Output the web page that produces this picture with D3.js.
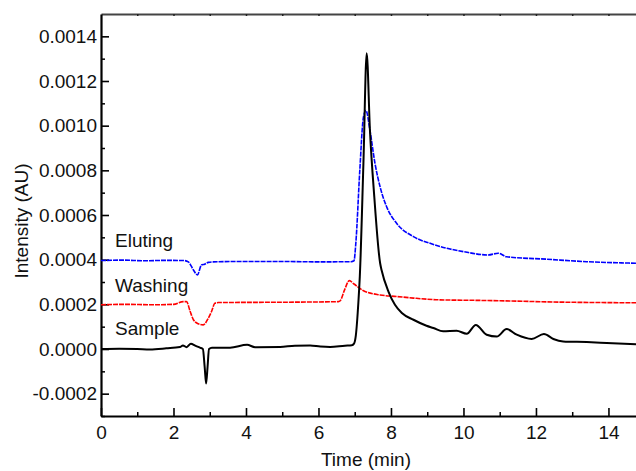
<!DOCTYPE html>
<html>
<head>
<meta charset="utf-8">
<script src="https://cdn.jsdelivr.net/npm/d3@7"></script>
<style>
  body { margin: 0; background: #fff; }
  svg { display: block; font-family: "Liberation Sans", Arial, sans-serif; }
</style>
</head>
<body>
<div id="chart"></div>
<script>
// chromatogram traces, time in min, intensity in AU
const sampleTime = [0, 0.5, 1.0, 1.35, 1.8, 2.18, 2.26, 2.36, 2.48, 2.6, 2.73, 2.81, 2.86, 2.90, 2.94, 2.98, 3.06, 3.56, 4.03, 4.25, 4.94, 5.35, 5.77, 6.05, 6.32, 6.73, 6.92, 6.98, 7.03, 7.10, 7.14, 7.24, 7.33, 7.42, 7.54, 7.70, 7.74, 7.93, 8.11, 8.30, 8.62, 8.98, 9.17, 9.44, 9.81, 10.09, 10.34, 10.64, 10.92, 11.19, 11.47, 11.88, 12.22, 12.48, 12.75, 13.40, 13.95, 14.76];
const sampleInt = [0.000000, 0.000001, 0.000000, -0.000002, 0.000003, 0.000009, 0.000016, 0.000008, 0.000024, 0.000015, 0.000006, 0.000000, -0.000080, -0.000155, -0.000080, 0.000000, 0.000006, 0.000006, 0.000019, 0.000008, 0.000009, 0.000015, 0.000016, 0.000011, 0.000009, 0.000015, 0.000017, 0.000024, 0.000060, 0.000207, 0.000324, 0.000832, 0.001324, 0.000979, 0.000681, 0.000385, 0.000354, 0.000257, 0.000198, 0.000161, 0.000131, 0.000104, 0.000094, 0.000079, 0.000082, 0.000068, 0.000108, 0.000064, 0.000056, 0.000089, 0.000064, 0.000045, 0.000067, 0.000045, 0.000034, 0.000031, 0.000027, 0.000021];

const washTime = [0, 0.7, 1.4, 2.0, 2.27, 2.36, 2.46, 2.55, 2.68, 2.82, 2.96, 3.05, 3.14, 3.24, 4.5, 5.5, 6.55, 6.60, 6.72, 6.85, 6.98, 7.23, 7.70, 8.16, 8.62, 9.35, 10.3, 11.0, 12.66, 14.76];
const washInt = [0.000198, 0.000200, 0.000198, 0.000200, 0.000212, 0.000212, 0.000168, 0.000131, 0.000113, 0.000108, 0.000138, 0.000168, 0.000205, 0.000208, 0.000209, 0.000210, 0.000212, 0.000216, 0.000265, 0.000306, 0.000291, 0.000262, 0.000242, 0.000235, 0.000228, 0.000220, 0.000218, 0.000216, 0.000210, 0.000207];

const eluteTime = [0, 0.6, 1.2, 1.8, 2.30, 2.41, 2.55, 2.66, 2.77, 2.86, 2.96, 3.10, 4.0, 5.0, 6.0, 6.9, 6.98, 7.03, 7.14, 7.24, 7.31, 7.42, 7.56, 7.70, 7.88, 8.16, 8.62, 9.08, 9.54, 10.0, 10.68, 10.96, 11.19, 12.3, 13.4, 14.76];
const eluteInt = [0.000396, 0.000398, 0.000395, 0.000397, 0.000396, 0.000390, 0.000354, 0.000332, 0.000376, 0.000380, 0.000388, 0.000390, 0.000392, 0.000392, 0.000390, 0.000391, 0.000395, 0.000473, 0.000800, 0.001038, 0.001068, 0.000979, 0.000830, 0.000726, 0.000637, 0.000562, 0.000503, 0.000473, 0.000451, 0.000436, 0.000421, 0.000429, 0.000413, 0.000402, 0.000391, 0.000384];

const yTicks = [-0.0002, 0, 0.0002, 0.0004, 0.0006, 0.0008, 0.0010, 0.0012, 0.0014];
const yMinor = [-0.0003, -0.0001, 0.0001, 0.0003, 0.0005, 0.0007, 0.0009, 0.0011, 0.0013];
const xTicks = [0, 2, 4, 6, 8, 10, 12, 14];
const xMinor = [1, 3, 5, 7, 9, 11, 13];

const labels = [
  {name: "Eluting", v: 0.000455},
  {name: "Washing", v: 0.000257},
  {name: "Sample", v: 0.000064}
];

const W = 636, H = 471;
const m = {left: 101, right: 636, top: 14, bottom: 416};

const svg = d3.select("#chart").append("svg")
  .attr("width", W).attr("height", H);

const x = d3.scaleLinear().domain([0, 14.76]).range([m.left, m.right]);
const y = d3.scaleLinear().domain([-0.0003, 0.0015]).range([m.bottom, m.top]);

// plain hyphen for negatives, like the original
const yFmt = d => d3.format(".4f")(d).replace("\u2212", "-");

// top border with small ticks
svg.append("g")
  .attr("transform", `translate(0,${m.top})`)
  .call(d3.axisTop(x).tickValues(d3.range(1, 15)).tickSize(-2).tickSizeOuter(0).tickFormat(""))
  .call(g => g.select(".domain").attr("stroke", "#444").attr("stroke-width", 2))
  .call(g => g.selectAll(".tick line").attr("stroke", "#222").attr("stroke-width", 1.5));

// minor ticks
svg.append("g")
  .attr("transform", `translate(0,${m.bottom})`)
  .call(d3.axisBottom(x).tickValues(xMinor).tickSize(-4).tickSizeOuter(0).tickFormat(""))
  .call(g => g.select(".domain").remove())
  .call(g => g.selectAll(".tick line").attr("stroke-width", 1.5));
svg.append("g")
  .attr("transform", `translate(${m.left},0)`)
  .call(d3.axisLeft(y).tickValues(yMinor).tickSize(-4).tickSizeOuter(0).tickFormat(""))
  .call(g => g.select(".domain").remove())
  .call(g => g.selectAll(".tick line").attr("stroke-width", 1.5));

// main axes
svg.append("g")
  .attr("transform", `translate(0,${m.bottom})`)
  .call(d3.axisBottom(x).tickValues(xTicks).tickSize(-8).tickSizeOuter(0).tickPadding(10).tickFormat(d3.format("d")))
  .call(g => g.select(".domain").attr("stroke-width", 2.2))
  .call(g => g.selectAll(".tick line").attr("stroke-width", 1.6))
  .call(g => g.selectAll("text").attr("font-size", 19).attr("fill", "#111").attr("font-family", "Liberation Sans, Arial, sans-serif"));

svg.append("g")
  .attr("transform", `translate(${m.left},0)`)
  .call(d3.axisLeft(y).tickValues(yTicks).tickSize(-8).tickSizeOuter(0).tickPadding(4).tickFormat(yFmt))
  .call(g => g.select(".domain").attr("stroke-width", 2.2))
  .call(g => g.selectAll(".tick line").attr("stroke-width", 1.6))
  .call(g => g.selectAll("text").attr("font-size", 19).attr("fill", "#111").attr("font-family", "Liberation Sans, Arial, sans-serif"));

// traces
const line = d3.line()
  .x(d => x(d[0]))
  .y(d => y(d[1]))
  .curve(d3.curveMonotoneX);

const traces = [
  {t: eluteTime, v: eluteInt, color: "#0000ff", w: 1.6, dash: "5,1"},
  {t: washTime, v: washInt, color: "#ff0000", w: 1.6, dash: "5,1"},
  {t: sampleTime, v: sampleInt, color: "#000000", w: 2, dash: null}
];

traces.forEach(function(tr) {
  svg.append("path")
    .datum(d3.zip(tr.t, tr.v))
    .attr("fill", "none")
    .attr("stroke", tr.color)
    .attr("stroke-width", tr.w)
    .attr("stroke-dasharray", tr.dash)
    .attr("stroke-linejoin", "round")
    .attr("d", line);
});

// trace names
svg.selectAll(".lab")
  .data(labels)
  .enter()
  .append("text")
  .attr("x", 115)
  .attr("y", d => y(d.v))
  .attr("font-size", 19)
  .attr("fill", "#111")
  .text(d => d.name);

// axis titles
svg.append("text")
  .attr("x", 366)
  .attr("y", 466)
  .attr("text-anchor", "middle")
  .attr("font-size", 19)
  .attr("fill", "#111")
  .text("Time (min)");

svg.append("text")
  .attr("transform", "translate(28,221) rotate(-90)")
  .attr("text-anchor", "middle")
  .attr("font-size", 19)
  .attr("fill", "#111")
  .text("Intensity (AU)");
</script>
</body>
</html>
